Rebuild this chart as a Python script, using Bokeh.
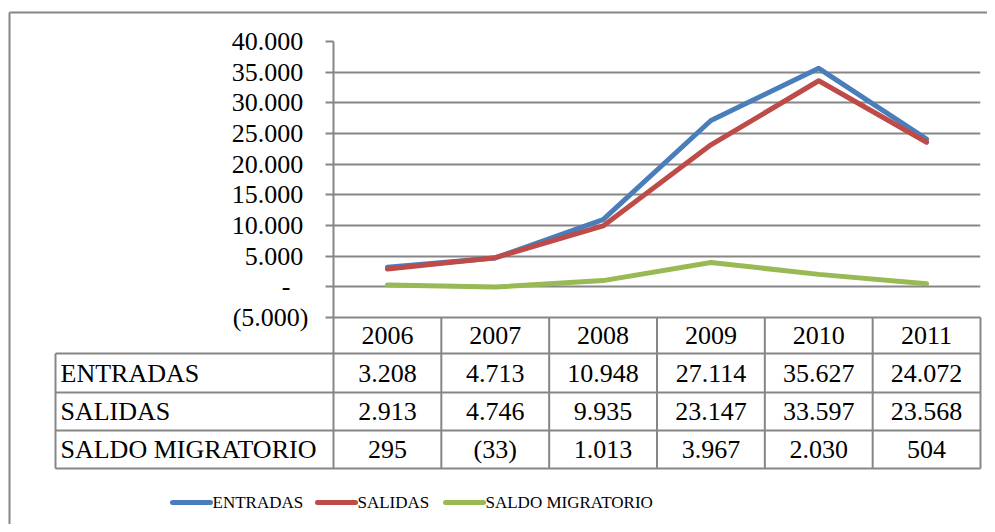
from bokeh.plotting import figure
from bokeh.models import Range1d, FixedTicker, CustomJSTickFormatter
from bokeh.embed import file_html
from bokeh.resources import INLINE
from bokeh.core.properties import value

# ---------------- data ----------------
years = ["2006", "2007", "2008", "2009", "2010", "2011"]
entradas = [3208, 4713, 10948, 27114, 35627, 24072]
salidas = [2913, 4746, 9935, 23147, 33597, 23568]
saldo = [295, -33, 1013, 3967, 2030, 504]
series_names = ["ENTRADAS", "SALIDAS", "SALDO MIGRATORIO"]
y_ticks = [-5000, 0, 5000, 10000, 15000, 20000, 25000, 30000, 35000, 40000]

# ---------------- layout / style ----------------
FONT = "Liberation Serif"
FS = "26px"
COLORS = ["#4A7EBB", "#BE4B48", "#98B954"]
GRID = "#868686"
W, H = 987, 524
FL, FR, FT, FB = 333, 980, 41, 317          # plot frame (figure px)
ROW_BOTTOMS = [353, 392, 430, 468]          # table row bottoms (figure px)
TABLE_LEFT = 55
LEG_Y = 502
LEG_X = [172, 317, 445]                     # legend key starts (figure px)
LEG_KEY = 38
YMIN, YMAX = y_ticks[0], y_ticks[-1]
n = len(years)


def xd(px):
    return (px - FL) * n / (FR - FL)


def yd(py):
    return YMIN + (FB - py) * (YMAX - YMIN) / (FB - FT)


def fmt(v):
    s = f"{abs(v):,}".replace(",", ".")
    return f"({s})" if v < 0 else s


p = figure(width=W, height=H, output_backend="svg", toolbar_location=None,
           x_range=Range1d(0, n), y_range=Range1d(YMIN, YMAX),
           min_border_left=FL, min_border_right=W - FR,
           min_border_top=FT, min_border_bottom=H - FB)
p.outline_line_color = None
p.background_fill_color = "white"
p.border_fill_color = "white"

# grid
p.xgrid.visible = False
p.ygrid.ticker = FixedTicker(ticks=y_ticks)
p.ygrid.grid_line_color = GRID
p.ygrid.grid_line_width = 2

# y axis
p.yaxis.ticker = FixedTicker(ticks=y_ticks)
p.yaxis.formatter = CustomJSTickFormatter(code="""
const s = Math.abs(tick).toFixed(0).replace(/\\B(?=(\\d{3})+(?!\\d))/g, ".");
if (tick > 0) return s + "\\u2009";
if (tick < 0) return "(" + s + ")";
return "-\\u2007\\u2009";
""")
p.yaxis.axis_line_color = GRID
p.yaxis.axis_line_width = 2
p.yaxis.major_tick_line_color = GRID
p.yaxis.major_tick_line_width = 2
p.yaxis.major_tick_out = 8
p.yaxis.major_tick_in = 0
p.yaxis.minor_tick_line_color = None
p.yaxis.major_label_text_font = FONT
p.yaxis.major_label_text_font_size = FS
p.yaxis.major_label_text_color = "black"
p.yaxis.major_label_standoff = 17

# x axis (years = table header)
centers = [i + 0.5 for i in range(n)]
p.xaxis.ticker = FixedTicker(ticks=centers)
p.xaxis.major_label_overrides = {c: y for c, y in zip(centers, years)}
p.xaxis.axis_line_color = None
p.xaxis.major_tick_line_color = None
p.xaxis.minor_tick_line_color = None
p.xaxis.major_tick_out = 0
p.xaxis.major_label_text_font = FONT
p.xaxis.major_label_text_font_size = FS
p.xaxis.major_label_text_color = "black"
p.xaxis.major_label_standoff = 9

# series lines
series = [entradas, salidas, saldo]
for vals, col in zip(series, COLORS):
    p.line(centers, vals, line_color=col, line_width=5,
           line_join="round", line_cap="round")

# ---------------- data table ----------------
hx, hy = [], []
hx.append([xd(FL), xd(FR)]); hy.append([yd(FB), yd(FB)])
for b in ROW_BOTTOMS:
    hx.append([xd(TABLE_LEFT), xd(FR)]); hy.append([yd(b), yd(b)])
for i in range(n + 1):
    hx.append([i, i]); hy.append([yd(FB), yd(ROW_BOTTOMS[-1])])
hx.append([xd(TABLE_LEFT), xd(TABLE_LEFT)]); hy.append([yd(ROW_BOTTOMS[0]), yd(ROW_BOTTOMS[-1])])
# outer chart border (left & top)
hx.append([xd(9), xd(9)]); hy.append([yd(12), yd(H + 10)])
hx.append([xd(9), xd(W + 10)]); hy.append([yd(12), yd(12)])
p.multi_line(hx, hy, line_color=GRID, line_width=2, level="overlay")

row_centers = [yd((a + b) / 2) for a, b in zip(ROW_BOTTOMS[:-1], ROW_BOTTOMS[1:])]
tx, ty, tt = [], [], []
for vals, yc in zip(series, row_centers):
    for c, v in zip(centers, vals):
        tx.append(c); ty.append(yc); tt.append(fmt(v))
p.text(tx, ty, text=tt, text_font=value(FONT), text_font_size=FS,
       text_align="center", text_baseline="middle", text_color="black", level="overlay")
p.text([xd(60)] * 3, row_centers, text=series_names, text_font=value(FONT),
       text_font_size=FS, text_align="left", text_baseline="middle",
       text_color="black", level="overlay")

# ---------------- legend (drawn below the table) ----------------
p.segment(x0=[xd(x) for x in LEG_X], y0=[yd(LEG_Y)] * 3,
          x1=[xd(x + LEG_KEY) for x in LEG_X], y1=[yd(LEG_Y)] * 3,
          line_color=COLORS, line_width=5, line_cap="round", level="overlay")
p.text([xd(x + LEG_KEY + 2) for x in LEG_X], [yd(LEG_Y)] * 3, text=series_names,
       text_font=value(FONT), text_font_size="17px", text_align="left",
       text_baseline="middle", text_color="black", level="overlay")

open("out.html", "w").write(file_html(p, INLINE))
